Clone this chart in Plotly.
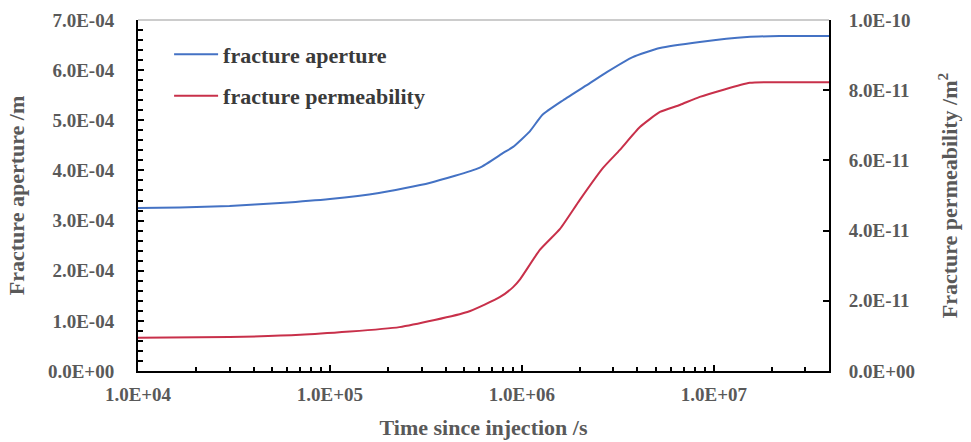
import plotly.graph_objects as go

# ---- data ----
time_aperture = [1.0e4, 1.65e4, 3.0e4, 5.5e4, 1.0e5, 1.8e5, 3.3e5, 6.0e5, 8.0e5, 9.0e5,
                 1.1e6, 1.28e6, 1.64e6, 2.26e6, 2.77e6, 3.78e6, 5.24e6, 8.45e6,
                 1.49e7, 2.2e7, 4.0e7]
fracture_aperture = [3.25e-4, 3.26e-4, 3.29e-4, 3.35e-4, 3.43e-4, 3.55e-4, 3.75e-4, 4.05e-4,
                     4.35e-4, 4.47e-4, 4.78e-4, 5.11e-4, 5.40e-4, 5.74e-4, 5.96e-4, 6.26e-4,
                     6.44e-4, 6.56e-4, 6.66e-4, 6.68e-4, 6.68e-4]

time_perm = [1.0e4, 3.0e4, 7.0e4, 2.3e5, 5.2e5, 7.7e5, 9.0e5, 9.8e5, 1.24e6, 1.58e6,
             2.0e6, 2.64e6, 3.24e6, 4.12e6, 5.24e6, 6.65e6, 8.45e6, 1.54e7, 2.2e7, 4.0e7]
fracture_permeability = [9.5e-12, 9.7e-12, 1.03e-11, 1.25e-11, 1.68e-11, 2.11e-11, 2.39e-11,
                         2.62e-11, 3.45e-11, 4.05e-11, 4.87e-11, 5.78e-11, 6.30e-11, 6.95e-11,
                         7.38e-11, 7.58e-11, 7.81e-11, 8.21e-11, 8.23e-11, 8.23e-11]

x_tickvals = [1e4, 1e5, 1e6, 1e7]
x_ticktext = ["1.0E+04", "1.0E+05", "1.0E+06", "1.0E+07"]
y1_tickvals = [0, 1e-4, 2e-4, 3e-4, 4e-4, 5e-4, 6e-4, 7e-4]
y1_ticktext = ["0.0E+00", "1.0E-04", "2.0E-04", "3.0E-04", "4.0E-04", "5.0E-04", "6.0E-04", "7.0E-04"]
y2_tickvals = [0, 2e-11, 4e-11, 6e-11, 8e-11, 1e-10]
y2_ticktext = ["0.0E+00", "2.0E-11", "4.0E-11", "6.0E-11", "8.0E-11", "1.0E-10"]


def d3_exp(v):
    """Text that d3-format '.1e' produces for v (e.g. '1.0e-4')."""
    m, e = f"{v:.1e}".split("e")
    e = int(e)
    return f"{m}e{'+' if e >= 0 else '-'}{abs(e)}"


def alias(vals, texts):
    out = {}
    for v, t in zip(vals, texts):
        k = d3_exp(v)
        out[k] = t
        out[k.replace("-", "\u2212")] = t
    return out


# ---- styling ----
FONT = "Liberation Serif, Times New Roman, serif"
GRAY = "#595959"
BLUE = "#4472C4"
RED = "#C8304A"
TICKSIZE = 19
TITLESIZE = 22

x_minor = [k * 10 ** e for e in range(4, 8) for k in range(2, 10) if k * 10 ** e < 4e7]

fig = go.Figure()
fig.add_trace(go.Scatter(x=time_aperture, y=fracture_aperture, mode="lines",
                         name="fracture aperture", line=dict(color=BLUE, width=2, shape="spline", smoothing=0.5),
                         legendgroup="a", xaxis="x3", yaxis="y3"))
fig.add_trace(go.Scatter(x=time_perm, y=fracture_permeability, mode="lines",
                         name="fracture permeability", line=dict(color=RED, width=2, shape="spline", smoothing=0.5),
                         legendgroup="b", xaxis="x3", yaxis="y4"))

common = dict(showgrid=False, zeroline=False, showline=True, linecolor="black", linewidth=2,
              ticks="inside", ticklen=6, tickwidth=2, tickcolor="black", automargin=False,
              tickformat=".1e")

fig.update_layout(
    width=971, height=442,
    margin=dict(l=138, r=142, t=20, b=71, autoexpand=False),
    paper_bgcolor="white", plot_bgcolor="white",
    font=dict(family=FONT, color=GRAY, size=TICKSIZE),
    showlegend=True,
    legend=dict(x=0.045, y=0.962, xanchor="left", yanchor="top", bgcolor="rgba(0,0,0,0)",
                font=dict(family=FONT, size=22, color="#3a3a3a", weight="bold"),
                itemwidth=44, traceorder="grouped", tracegroupgap=10),
    xaxis3=dict(type="log", range=[4, 7.6], dtick=1, labelalias=alias(x_tickvals, x_ticktext),
                domain=[0, 1], anchor="y3",
                minor=dict(tickvals=x_minor, ticks="inside", ticklen=4, tickwidth=1.5, tickcolor="black"),
                ticklabelstandoff=5,
                tickfont=dict(family=FONT, size=TICKSIZE, color=GRAY, weight="bold"),
                title=dict(text="Time since injection /s", standoff=16,
                           font=dict(family=FONT, size=TITLESIZE, color=GRAY, weight="bold")),
                **common),
    yaxis3=dict(range=[0, 7e-4], tick0=0, dtick=1e-4, labelalias=alias(y1_tickvals, y1_ticktext),
                domain=[0, 1], anchor="x3",
                minor=dict(dtick=2e-5, ticks="inside", ticklen=5, tickwidth=1.5, tickcolor="black"),
                ticklabelstandoff=18,
                tickfont=dict(family=FONT, size=TICKSIZE, color=GRAY, weight="bold"),
                title=dict(text="Fracture aperture /m", standoff=17,
                           font=dict(family=FONT, size=TITLESIZE, color=GRAY, weight="bold")),
                **common),
    yaxis4=dict(range=[0, 1e-10], overlaying="y3", side="right", anchor="x3", tick0=0, dtick=2e-11,
                labelalias=alias(y2_tickvals, y2_ticktext),
                minor=dict(dtick=4e-12, ticks="inside", ticklen=5, tickwidth=1.5, tickcolor="black"),
                ticklabelstandoff=14,
                tickfont=dict(family=FONT, size=TICKSIZE, color=GRAY, weight="bold"),
                title=dict(text="Fracture permeability /m<sup>2</sup>", standoff=28,
                           font=dict(family=FONT, size=TITLESIZE, color=GRAY, weight="bold")),
                **common),
    shapes=[dict(type="line", xref="paper", yref="paper", x0=0, x1=1, y0=1, y1=1,
                 line=dict(color="#9a9a9a", width=1.2))],
)

fig.write_html("out.html")
